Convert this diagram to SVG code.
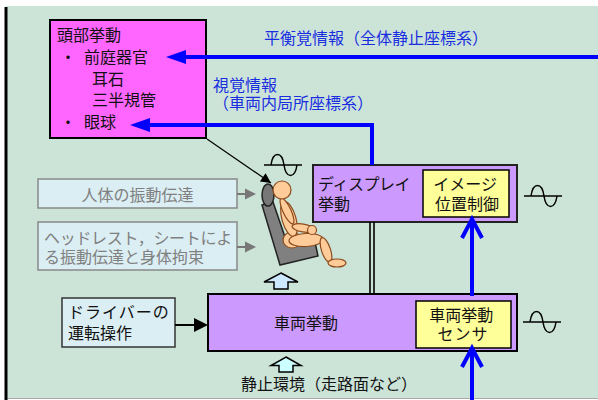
<svg xmlns="http://www.w3.org/2000/svg" width="598" height="400" viewBox="0 0 598 400">
  <defs>
    <style>
      text { font-family: "Noto Sans CJK JP", "Noto Sans", sans-serif; font-size: 16px; fill: #111; }
      .blue { fill: #1a2ee0; }
      .grey { fill: #808080; }
      .mid { text-anchor: middle; }
      .box-head { fill: #ff66ff; stroke: #000; stroke-width: 2; }
      .box-purple { fill: #cc99ff; stroke: #222; stroke-width: 2; }
      .box-yellow { fill: #ffff99; stroke: #000; stroke-width: 1.5; }
      .box-light { fill: #dbeef3; stroke: #333; stroke-width: 1.5; }
      .box-grey { fill: #dbeef3; stroke: #888; stroke-width: 1.5; }
      .blue-line { fill: none; stroke: #0000ff; stroke-width: 4; }
      .sine { fill: none; stroke: #000; stroke-width: 1.5; }
      .skin { fill: #ffcc99; stroke: #8b4a1c; stroke-width: 1.2; }
      .block-arrow { stroke: #000; stroke-width: 1.5; }
    </style>
    <marker id="head-black" viewBox="0 0 10 10" refX="10" refY="5" markerWidth="14" markerHeight="10" markerUnits="userSpaceOnUse" orient="auto">
      <path d="M0,0 L10,5 L0,10 Z" fill="#000"/>
    </marker>
    <path id="wave" d="M-7,0 H31 M0,0 C2,-14 11,-14 13,0 C15,14 24,14 26,0"/>
  </defs>

  <!-- background panel -->
  <rect x="0" y="0" width="598" height="400" fill="#ffffff"/>
  <rect x="6" y="6" width="592" height="392" fill="#cce4d8"/>
  <line x1="6" y1="398.5" x2="598" y2="398.5" stroke="#aaaaaa" stroke-width="1"/>
  <line x1="6" y1="7" x2="6" y2="400" stroke="#000" stroke-width="3"/>

  <!-- head motion -->
  <g id="head-motion">
    <rect class="box-head" x="50" y="20" width="156" height="118"/>
    <text>
      <tspan x="57" y="40.5">頭部挙動</tspan>
      <tspan x="60" y="62.5">・</tspan><tspan x="84" y="62.5">前庭器官</tspan>
      <tspan x="92" y="85">耳石</tspan>
      <tspan x="92" y="105.5">三半規管</tspan>
      <tspan x="60" y="127.5">・</tspan><tspan x="84" y="127.5">眼球</tspan>
    </text>
  </g>

  <!-- info labels -->
  <g id="labels">
    <text class="blue" x="264" y="44">平衡覚情報（全体静止座標系）</text>
    <text class="blue">
      <tspan x="213" y="90.5">視覚情報</tspan>
      <tspan x="213" y="109">（車両内局所座標系）</tspan>
    </text>
  </g>

  <!-- display motion -->
  <g id="display-motion">
    <rect class="box-purple" x="313" y="165" width="204" height="57"/>
    <text>
      <tspan x="318" y="189.5" letter-spacing="-0.5">ディスプレイ</tspan>
      <tspan x="318" y="209.5">挙動</tspan>
    </text>
    <g id="image-position-control">
      <rect class="box-yellow" x="423" y="170" width="86" height="47"/>
      <text class="mid">
        <tspan x="467" y="190">イメージ</tspan>
        <tspan x="467" y="209.5">位置制御</tspan>
      </text>
    </g>
  </g>

  <!-- vehicle motion -->
  <g id="vehicle-motion">
    <rect class="box-purple" x="208" y="294" width="309" height="57" style="stroke:#000"/>
    <text class="mid" x="306" y="328.5">車両挙動</text>
    <g id="vehicle-motion-sensor">
      <rect class="box-yellow" x="416" y="301" width="95" height="47"/>
      <text class="mid">
        <tspan x="463" y="321">車両挙動</tspan>
        <tspan x="463" y="340" letter-spacing="1">センサ</tspan>
      </text>
    </g>
  </g>

  <!-- driver operation -->
  <g id="driver-operation">
    <rect class="box-light" x="62" y="298" width="113" height="49"/>
    <text>
      <tspan x="68" y="318" letter-spacing="1">ドライバーの</tspan>
      <tspan x="68" y="338.5">運転操作</tspan>
    </text>
  </g>

  <!-- body vibration transfer -->
  <g id="body-vibration">
    <rect class="box-grey" x="38" y="179" width="199" height="29"/>
    <text class="grey mid" x="137.5" y="201">人体の振動伝達</text>
  </g>

  <!-- headrest and seat transfer -->
  <g id="seat-transfer">
    <rect class="box-grey" x="38" y="222" width="199" height="48"/>
    <text class="grey">
      <tspan x="44" y="243.5" letter-spacing="-0.3">ヘッドレスト，シートによ</tspan>
      <tspan x="44" y="262.5">る振動伝達と身体拘束</tspan>
    </text>
  </g>

  <!-- static environment -->
  <g id="static-environment">
    <text x="241" y="390">静止環境（走路面など）</text>
  </g>

  <!-- seated occupant -->
  <g id="occupant">
    <path d="M262,205 L273,202 L286,240 L315,242 L318,256 L280,265 Z" fill="#808080" stroke="#222" stroke-width="1.5"/>
    <ellipse cx="268" cy="195" rx="6" ry="11" fill="#777" stroke="#222" stroke-width="1.5"/>
    <ellipse class="skin" cx="292" cy="240" rx="9" ry="8"/>
    <ellipse class="skin" cx="289" cy="219" rx="7" ry="18" transform="rotate(-16 289 219)"/>
    <ellipse class="skin" cx="306" cy="240" rx="17" ry="6.5" transform="rotate(-3 306 240)"/>
    <ellipse class="skin" cx="326" cy="250" rx="4.5" ry="13" transform="rotate(-18 326 250)"/>
    <ellipse class="skin" cx="337" cy="263" rx="9" ry="4"/>
    <ellipse class="skin" cx="287" cy="211" rx="4" ry="14" transform="rotate(-25 287 211)"/>
    <ellipse class="skin" cx="303" cy="228" rx="11" ry="4" transform="rotate(10 303 228)"/>
    <circle class="skin" cx="312" cy="230" r="4.5"/>
    <circle class="skin" cx="282" cy="190" r="9"/>
  </g>

  <!-- vibration symbols -->
  <g id="vibration-symbols">
    <use href="#wave" class="sine" x="271" y="165"/>
    <use href="#wave" class="sine" x="531" y="196"/>
    <use href="#wave" class="sine" x="530" y="322"/>
  </g>

  <!-- connectors -->
  <g id="connectors">
    <!-- vestibular information -->
    <line class="blue-line" x1="182" y1="57" x2="598" y2="57"/>
    <path d="M166,57 L186,50 L186,64 Z" fill="#0000ff"/>
    <!-- visual information -->
    <path class="blue-line" d="M146,125 H372 V165"/>
    <path d="M130,125 L150,118 L150,132 Z" fill="#0000ff"/>
    <!-- sensor to display control -->
    <line class="blue-line" x1="472" y1="296" x2="472" y2="220"/>
    <polyline class="blue-line" points="462,238 472,219 482,238"/>
    <!-- input to sensor -->
    <line class="blue-line" x1="472" y1="400" x2="472" y2="350"/>
    <polyline class="blue-line" points="462,367 472,348 482,367"/>
    <!-- head motion to occupant -->
    <line x1="207" y1="139" x2="271" y2="183" stroke="#000" stroke-width="1.2" marker-end="url(#head-black)"/>
    <!-- vibration transfer arrows -->
    <line x1="237" y1="194" x2="246" y2="194" stroke="#777" stroke-width="2"/>
    <path d="M256,194 L245,188.5 L245,199.5 Z" fill="#777"/>
    <line x1="237" y1="247" x2="246" y2="247" stroke="#777" stroke-width="2"/>
    <path d="M256,247 L245,241.5 L245,252.5 Z" fill="#777"/>
    <!-- driver operation to vehicle -->
    <line x1="175" y1="325" x2="196" y2="325" stroke="#000" stroke-width="2"/>
    <path d="M208,325 L194,318 L194,332 Z" fill="#000"/>
    <!-- display mount link -->
    <line x1="370" y1="222" x2="370" y2="294" stroke="#000" stroke-width="1.6"/>
    <line x1="374" y1="222" x2="374" y2="294" stroke="#000" stroke-width="1.6"/>
    <!-- vehicle to seat -->
    <path class="block-arrow" fill="#cce8ff" d="M281,273 L298,282 L288,282 L288,289 L274,289 L274,282 L264,282 Z"/>
    <!-- static environment to vehicle -->
    <path class="block-arrow" fill="#ccffff" d="M286,357 L301,365.5 L293,365.5 L293,372 L279,372 L279,365.5 L271,365.5 Z"/>
  </g>
</svg>
